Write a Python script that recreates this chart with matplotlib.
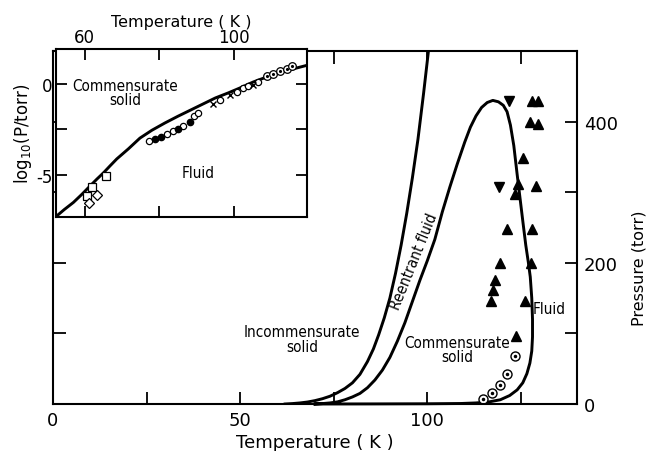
import matplotlib
matplotlib.use("Agg")
import matplotlib.pyplot as plt
from matplotlib import font_manager as fm

# main panel: phase boundaries (Temperature K, Pressure torr)
incomm_T = [62, 64, 66, 68, 70, 72, 74, 76, 78, 80, 82, 84, 85.6, 87, 88.5, 90, 91.5,
            93, 94.5, 96, 97.5, 99, 100.3]
incomm_P = [0, 0.6, 1.5, 2.8, 4.8, 7.5, 11, 16, 22, 30, 42, 60, 78, 98, 122, 150, 185,
            225, 270, 320, 375, 440, 500]

comm_T = [70, 72, 74, 76, 78, 80, 82, 84, 86, 88, 90, 92, 94, 96, 98, 100, 102, 104, 106,
          108, 110, 111.5, 113, 114.5, 116, 117.5,
          119, 120.3, 121.3, 122.2, 123.1, 124, 124.8, 125.6, 126.3, 127, 127.5, 127.9,
          128.1, 128.1, 127.9, 127.4, 126.6, 125.5, 124, 122, 119.5, 116.5, 113, 109,
          100, 85, 70]
comm_P = [0, 0.6, 1.5, 3, 6, 10, 15, 23, 34, 48, 66, 89, 115, 145, 175, 203, 233, 272, 307,
          340, 371, 392, 408, 420, 427, 430,
          428, 423, 414, 395, 366, 325, 290, 255, 225, 200, 180, 150,
          120, 95, 75, 58, 43, 30, 20, 12, 6, 3, 1.5, 0.7,
          0.3, 0.1, 0]

up_T = [128, 129.5, 127.3, 129.5, 125.6, 124.1, 123.5, 129, 121.3, 128,
        119.5, 127.7, 118.2, 117.6, 117.1, 126, 123.7]
up_P = [429, 429, 400, 397, 348, 311, 298, 309, 248, 248,
        199, 199, 175, 162, 146, 146, 97]
down_T = [121.9, 119.1]
down_P = [429, 307]
dot_T = [123.5, 121.3, 119.3, 117.3, 114.9]
dot_P = [67.6, 42.5, 27.4, 15.6, 7]

# inset: log10 vapour pressure
vap_T = [52.2, 54.5, 57, 59.3, 61.5, 63.3, 65, 66.8, 68.6, 71.7, 74.8, 78, 81.5, 85,
         88.5, 91.8, 95, 98.5, 101.5, 105.1, 108.5, 112, 116, 119.4]
vap_L = [-7.3, -6.9, -6.5, -6.05, -5.59, -5.22, -4.89, -4.5, -4.12, -3.57, -2.98, -2.55,
         -2.15, -1.78, -1.43, -1.1, -0.78, -0.5, -0.24, 0.09, 0.35, 0.6, 0.82, 1.0]

sq_T = [65.7, 61.9, 60.7]
sq_L = [-5.04, -5.68, -6.14]
dia_T = [63.4, 61.2]
dia_L = [-6.08, -6.54]
oc_T = [77.1, 82.0, 83.7, 86.4, 89.3, 90.4, 96.2, 100.7, 102.5, 103.8, 106.5]
oc_L = [-3.15, -2.75, -2.6, -2.34, -1.79, -1.61, -0.92, -0.46, -0.24, -0.15, 0.09]
fc_T = [78.9, 80.4, 85.1, 88.2]
fc_L = [-3.02, -2.93, -2.47, -2.1]
cr_T = [94.4, 98.9, 105.1]
cr_L = [-1.13, -0.64, -0.09]
cd_T = [108.7, 110.5, 112.3, 114.1, 115.4]
cd_L = [0.4, 0.55, 0.7, 0.82, 0.95]


# look for a condensed face for the region labels
def pick_narrow():
    for fam in ['Noto Sans', 'DejaVu Sans', 'Open Sans', 'Roboto', 'Liberation Sans Narrow']:
        for st in ['condensed', 'semi-condensed']:
            try:
                p = fm.findfont(fm.FontProperties(family=fam, stretch=st),
                                fallback_to_default=False)
            except Exception:
                continue
            if 'ondensed' in p or 'Narrow' in p:
                return fam, st
    return 'Roboto', 'normal'


nfam, nstretch = pick_narrow()
lab = dict(family=[nfam, 'DejaVu Sans'], fontstretch=nstretch, fontsize=11,
           ha='center', va='center', linespacing=0.95)

fig = plt.figure(figsize=(6.47, 4.52), dpi=100)
ax = fig.add_axes([0.0819, 0.104, 0.81, 0.781])
ax.plot(incomm_T, incomm_P, color='black', lw=2.1)
ax.plot(comm_T, comm_P, color='black', lw=2.1, clip_on=False)
ax.plot(up_T, up_P, '^', color='black', ms=7, ls='none')
ax.plot(down_T, down_P, 'v', color='black', ms=7, ls='none')
ax.plot(dot_T, dot_P, 'o', mfc='white', mec='black', mew=1, ms=6.5, ls='none')
ax.plot(dot_T, dot_P, '.', color='black', ms=3, ls='none')
ax.set_xlim(0, 140)
ax.set_ylim(0, 500)
ax.set_xticks([0, 25, 50, 75, 100, 125])
ax.set_xticklabels(['0', '', '50', '', '100', ''], fontsize=13)
ax.set_yticks([0, 100, 200, 300, 400])
ax.tick_params(direction='in', length=9, width=1.3, top=True, right=True,
               left=True, labelleft=False, labelright=True, labelsize=13, pad=5)
ax.set_yticklabels(['0', '', '200', '', '400'])
for s in ax.spines.values():
    s.set_linewidth(1.5)
fig.text(0.5 * (0.0819 + 0.8919), 1 - 443 / 452, 'Temperature ( K )',
         ha='center', va='center', fontsize=13)
fig.text(639 / 647, 1 - 268 / 452, 'Pressure (torr)', rotation=90,
         ha='center', va='center', fontsize=11.5)

ax.text(66.6, 92, 'Incommensurate\nsolid', **lab)
ax.text(108, 77, 'Commensurate\nsolid', **lab)
ax.text(132.5, 135, 'Fluid', **lab)
ax.text(96.5, 203, 'Reentrant fluid', rotation=68, **lab)

# inset
ins = fig.add_axes([0.0858, 0.5177, 0.388, 0.3717])
ins.set_facecolor('white')
ins.plot(vap_T, vap_L, color='black', lw=2.1)
ins.plot(sq_T, sq_L, 's', mfc='white', mec='black', ms=5.5, mew=0.9, ls='none')
ins.plot(dia_T, dia_L, 'D', mfc='white', mec='black', ms=5, mew=0.9, ls='none')
ins.plot(oc_T, oc_L, 'o', mfc='white', mec='black', ms=4.5, mew=0.9, ls='none')
ins.plot(fc_T, fc_L, 'o', color='black', ms=4.5, ls='none')
ins.plot(cr_T, cr_L, 'x', color='black', ms=5, mew=1, ls='none')
ins.plot(cd_T, cd_L, 'o', mfc='white', mec='black', ms=5.5, mew=0.9, ls='none')
ins.plot(cd_T, cd_L, '.', color='black', ms=2.5, ls='none')
ins.set_xlim(52.2, 119.4)
ins.set_ylim(-7.3, 1.9)
ins.xaxis.tick_top()
ins.set_xticks([60, 80, 100])
ins.set_xticklabels(['60', '', '100'], fontsize=12)
ins.set_yticks([-5, -2.5, 0])
ins.set_yticklabels(['-5', '', '0'], fontsize=12)
ins.tick_params(direction='in', length=8, width=1.3, top=True, bottom=True,
                left=True, right=True, pad=2)
for s in ins.spines.values():
    s.set_linewidth(1.5)
fig.text(181 / 647, 1 - 22 / 452, 'Temperature ( K )', ha='center', va='center',
         fontsize=11.5)
ins.set_ylabel('log$_{10}$(P/torr)', fontsize=12, labelpad=2)
ins.text(70.8, -0.49, 'Commensurate\nsolid', **lab)
ins.text(90.3, -4.86, 'Fluid', **lab)

fig.savefig('out.png', dpi=100)
